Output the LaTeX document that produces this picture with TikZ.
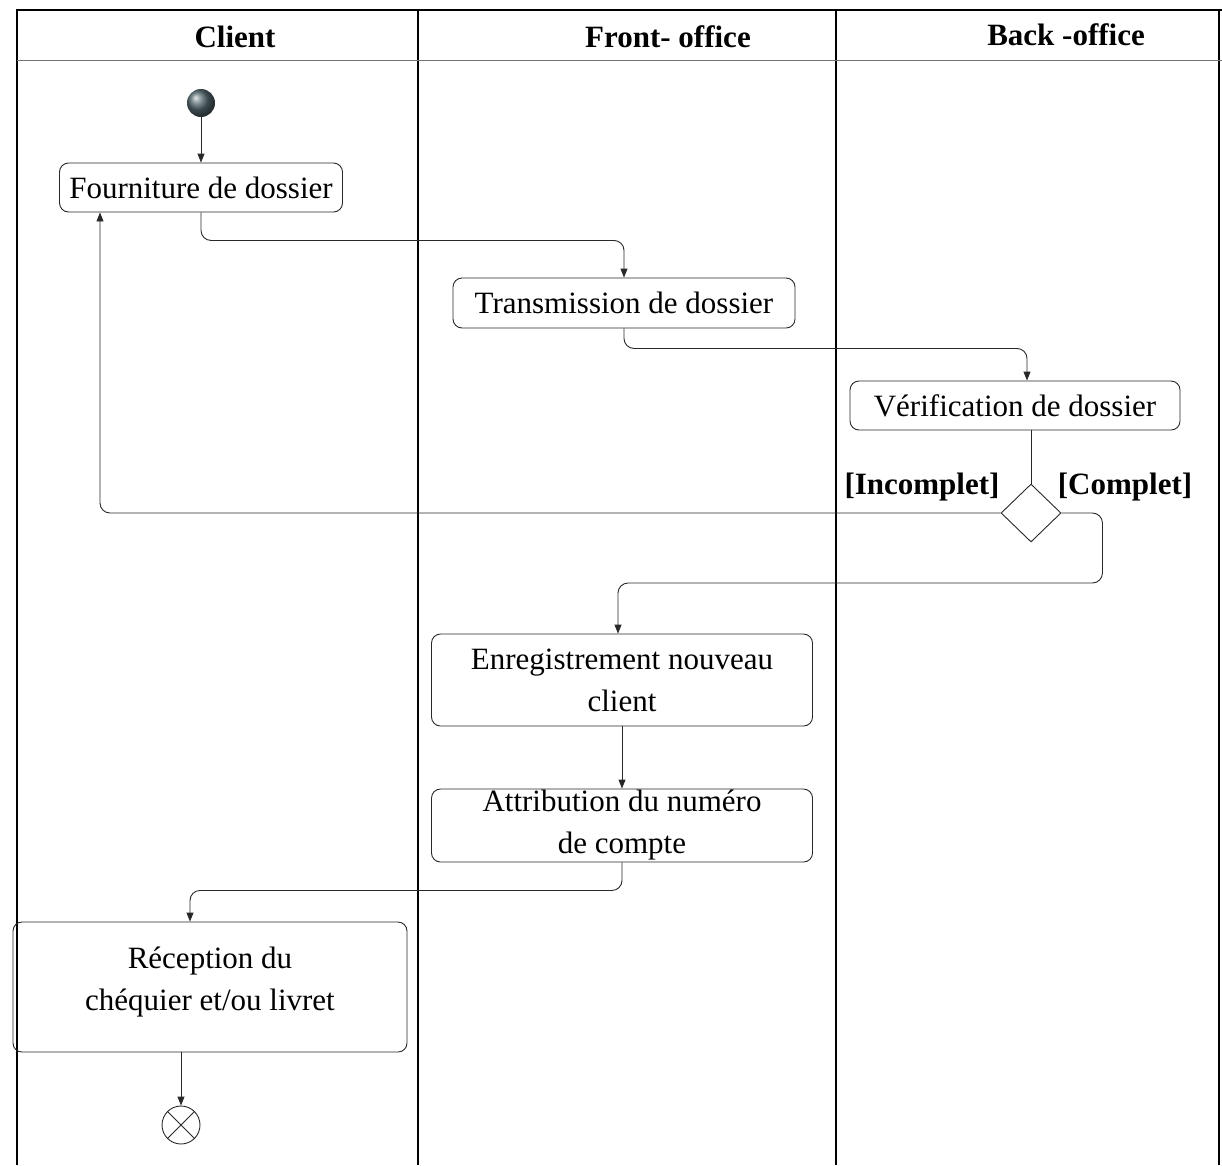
\documentclass[tikz,border=0pt]{standalone}
\usepackage{fontspec}
\setmainfont{Liberation Serif}
\usetikzlibrary{arrows.meta,shapes.geometric,calc}
\definecolor{ink}{RGB}{40,40,40}
\definecolor{balltone}{RGB}{85,105,112}
\begin{document}
\begin{tikzpicture}[x=1pt,y=-1pt,
  lane/.style={line width=1.8pt,black},
  sep/.style={line width=0.8pt,black!55},
  head/.style={font=\fontsize{31}{36}\selectfont\bfseries,inner sep=0pt},
  act/.style={draw=ink,line width=0.9pt,rounded corners=9pt,align=center,inner sep=0pt,
    font=\fontsize{31}{42}\selectfont},
  guard/.style={font=\fontsize{31}{36}\selectfont\bfseries,inner sep=0pt},
  flow/.style={draw=ink,line width=0.9pt,rounded corners=10pt,-{Triangle[length=9pt,width=7pt]}},
  plain/.style={draw=ink,line width=0.9pt}]
  \useasboundingbox (0,0) rectangle (1222,1165);

  % swimlane frame
  \draw[lane] (17,1165) -- (17,10) -- (1222,10);
  \draw[lane] (418,10) -- (418,1165);
  \draw[lane] (836,10) -- (836,1165);
  \draw[lane] (1219,10) -- (1219,1165);
  \draw[sep] (17,60) -- (1222,60);

  % lane titles
  \node[head] (hclient) at (235,37) {Client};
  \node[head] (hfront) at (668,37) {Front- office};
  \node[head] (hback) at (1066,35) {Back -office};

  % activities
  \node[circle,inner sep=0pt,minimum size=28pt,shading=ball,ball color=balltone] (start) at (201,103) {};
  \node[act,minimum width=283pt,minimum height=49pt] (fourn) at (201,187.5) {Fourniture de dossier};
  \node[act,minimum width=342pt,minimum height=50pt] (trans) at (624,303) {Transmission de dossier};
  \node[act,minimum width=330pt,minimum height=49pt] (verif) at (1015,405.5) {Vérification de dossier};
  \node[diamond,draw=ink,line width=0.9pt,inner sep=0pt,minimum width=60pt,minimum height=58pt] (dec) at (1031,513) {};
  \node[act,minimum width=381pt,minimum height=92pt] (enreg) at (622,680) {Enregistrement nouveau\\client};
  \node[act,minimum width=381pt,minimum height=73pt] (attr) at (622,825.5) {Attribution du numéro\\de compte};
  \node[act,minimum width=394pt,minimum height=130pt,text depth=16pt] (recep) at (210,987) {Réception du\\chéquier et/ou livret};
  \node[circle,draw=ink,line width=0.9pt,inner sep=0pt,minimum size=38pt] (fin) at (181,1125) {};
  \draw[plain] (fin.north west) -- (fin.south east);
  \draw[plain] (fin.north east) -- (fin.south west);

  % guards
  \node[guard] (gin) at (922,487) {[Incomplet]};
  \node[guard] (gco) at (1125,487) {[Complet]};

  % control flow
  \draw[flow] (start) -- (fourn.north);
  \draw[flow] (fourn.south) -- ++(0,28) -| (trans.north);
  \draw[flow] (trans.south) -- ++(0,20) -| ([xshift=12pt]verif.north);
  \draw[plain] (verif.south -| dec.north) -- (dec.north);
  \coordinate (ret) at ([xshift=-101pt]fourn.south);
  \draw[flow] (dec.west) -| (ret);
  \draw[flow] (dec.east) -- ++(41,0) -- ++(0,70) -| ([xshift=-4pt]enreg.north);
  \draw[flow] (enreg.south) -- (attr.north);
  \draw[flow] (attr.south) -- ++(0,28) -| ([xshift=-20pt]recep.north);
  \draw[flow] (recep.south -| fin.north) -- (fin.north);
\end{tikzpicture}
\end{document}
